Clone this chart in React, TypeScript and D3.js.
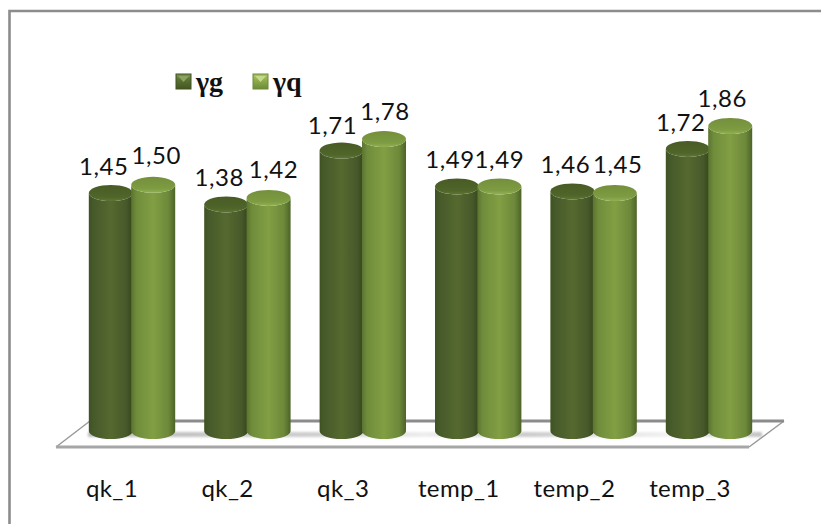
import React from "react";
import * as d3 from "d3";

const categories = ["qk_1", "qk_2", "qk_3", "temp_1", "temp_2", "temp_3"];
const gammaG = [1.45, 1.38, 1.71, 1.49, 1.46, 1.72];
const gammaQ = [1.5, 1.42, 1.78, 1.49, 1.45, 1.86];
const seriesNames = ["γg", "γq"];

const W = 821, H = 524;
const fmt = (v: number) => v.toFixed(2).replace(".", ",");

function Cylinder({ cx, top, base, rx, ry, id }: { cx: number; top: number; base: number; rx: number; ry: number; id: string }) {
  const x0 = cx - rx, x1 = cx + rx;
  const body = `M${x0},${top}L${x0},${base}A${rx},${ry} 0 0 0 ${x1},${base}L${x1},${top}A${rx},${ry} 0 0 1 ${x0},${top}Z`;
  return (
    <g>
      <path d={body} fill={`url(#body-${id})`} />
      <ellipse cx={cx} cy={top} rx={rx} ry={ry} fill={`url(#cap-${id})`} />
    </g>
  );
}

export default function App() {
  const y = d3.scaleLinear().domain([0, 1.86]).range([430, 126]);
  const xCat = d3.scalePoint<string>().domain(categories).range([132, 709]);
  const xLabel = d3.scalePoint<string>().domain(categories).range([112, 690]);
  const halfGap = 21.2, rx = 22, ry = 8;
  const base = 431;
  const dxG = [-7, -7, -9, -7, -7, -7];
  const dxQ = [3, 5, 1, 0, 3, -8];
  const dyG = [-10, -10, -9, -10, -10, -10];
  const dyQ = [-13, -12, -11, -10, -12, -11];

  const floor = d3.line()([[56, 447], [749, 447], [784, 421], [90, 421]]) + "Z";

  return (
    <svg width={W} height={H} style={{ position: "absolute", left: 0, top: 0, background: "#fff" }}>
      <defs>
        <filter id="soft" x="-5%" y="-100%" width="110%" height="300%">
          <feGaussianBlur stdDeviation="1.2" />
        </filter>
        <linearGradient id="body-g" x1="0" x2="1" y1="0" y2="0">
          <stop offset="0" stopColor="#3f5222" />
          <stop offset="0.1" stopColor="#46592a" />
          <stop offset="0.5" stopColor="#55692f" />
          <stop offset="0.85" stopColor="#47592a" />
          <stop offset="1" stopColor="#34451b" />
        </linearGradient>
        <linearGradient id="body-q" x1="0" x2="1" y1="0" y2="0">
          <stop offset="0" stopColor="#5b7430" />
          <stop offset="0.12" stopColor="#6f8c3b" />
          <stop offset="0.5" stopColor="#829f44" />
          <stop offset="0.85" stopColor="#6c883a" />
          <stop offset="1" stopColor="#4d6328" />
        </linearGradient>
        <linearGradient id="cap-g" x1="0" x2="0" y1="0" y2="1">
          <stop offset="0" stopColor="#485b25" />
          <stop offset="0.75" stopColor="#4f6529" />
          <stop offset="1" stopColor="#5d7634" />
        </linearGradient>
        <linearGradient id="cap-q" x1="0" x2="0" y1="0" y2="1">
          <stop offset="0" stopColor="#738f3c" />
          <stop offset="0.75" stopColor="#7e9c42" />
          <stop offset="1" stopColor="#93b152" />
        </linearGradient>
        <linearGradient id="floor-shadow" x1="0" x2="1" y1="0" y2="0">
          <stop offset="0" stopColor="#bdbdbd" />
          <stop offset="0.35" stopColor="#d0d0d0" />
          <stop offset="0.5" stopColor="#eeeeee" />
          <stop offset="0.65" stopColor="#cccccc" />
          <stop offset="0.86" stopColor="#f2f2f2" />
          <stop offset="1" stopColor="#c4c4c4" />
        </linearGradient>
        <linearGradient id="leg-g" x1="0" x2="0" y1="0" y2="1">
          <stop offset="0" stopColor="#7d9450" />
          <stop offset="0.4" stopColor="#5a7034" />
          <stop offset="1" stopColor="#43561f" />
        </linearGradient>
        <linearGradient id="leg-q" x1="0" x2="0" y1="0" y2="1">
          <stop offset="0" stopColor="#a9c468" />
          <stop offset="0.5" stopColor="#8aa84a" />
          <stop offset="1" stopColor="#6d8a36" />
        </linearGradient>
      </defs>

      {/* frame */}
      <path d={`M${W},11H9.5V${H}`} fill="none" stroke="#8c8c8c" strokeWidth={2.6} />

      {/* floor */}
      <path d={floor} fill="#fff" />
      <rect x={88} y={432} width={674} height={5} fill="url(#floor-shadow)" filter="url(#soft)" />
      <path d="M56,447L90,421M749,447L784,421" fill="none" stroke="#9a9a9a" strokeWidth={1.5} />
      <line x1={90} x2={784} y1={421} y2={421} stroke="#8c8c8c" strokeWidth={3} />
      <line x1={56} x2={749} y1={447} y2={447} stroke="#a6a6a6" strokeWidth={3} />

      {/* bars */}
      {categories.map((c, i) => {
        const cx = xCat(c)!;
        return (
          <g key={c}>
            <Cylinder cx={cx - halfGap} top={y(gammaG[i])} base={base} rx={rx} ry={ry} id="g" />
            <Cylinder cx={cx + halfGap} top={y(gammaQ[i])} base={base} rx={rx} ry={ry} id="q" />
          </g>
        );
      })}

      {/* data labels */}
      <g fontFamily="Lato, 'Open Sans', sans-serif" fontSize={24} letterSpacing={0.6} fill="#111" textAnchor="middle">
        {categories.map((c, i) => {
          const cx = xCat(c)!;
          return (
            <g key={c}>
              <text x={cx - halfGap + dxG[i]} y={y(gammaG[i]) - ry + dyG[i]}>{fmt(gammaG[i])}</text>
              <text x={cx + halfGap + dxQ[i]} y={y(gammaQ[i]) - ry + dyQ[i]}>{fmt(gammaQ[i])}</text>
            </g>
          );
        })}
      </g>

      {/* category labels */}
      <g fontFamily="Lato, 'Open Sans', sans-serif" fontSize={24} letterSpacing={0.4} fill="#111" textAnchor="middle">
        {categories.map((c) => (
          <text key={c} x={xLabel(c)!} y={497}>{c}</text>
        ))}
      </g>

      {/* legend */}
      {seriesNames.map((s, i) => {
        const lx = 176 + i * 77;
        return (
          <g key={s}>
            <rect x={lx} y={74} width={15} height={15} fill={i === 0 ? "url(#leg-g)" : "url(#leg-q)"} stroke={i === 0 ? "#3f5222" : "#6d8a36"} />
            <path d={`M${lx + 2},${76}H${lx + 13}L${lx + 7.5},${82}Z`} fill={i === 0 ? "#8ca35e" : "#c4d98a"} />
            <text x={lx + 20} y={91} fontFamily="'Liberation Serif', serif" fontWeight="bold" fontSize={28} fill="#111">{s}</text>
          </g>
        );
      })}
    </svg>
  );
}
